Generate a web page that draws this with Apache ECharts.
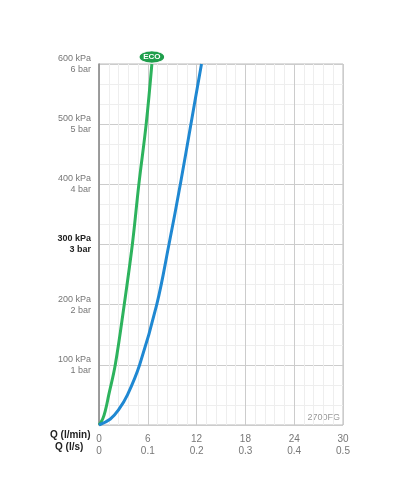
<!DOCTYPE html>
<html>
<head>
<meta charset="utf-8">
<script src="https://cdn.jsdelivr.net/npm/echarts@6/dist/echarts.min.js"></script>
<style>html,body{margin:0;padding:0;background:#fff}#chart{width:400px;height:500px}</style>
</head>
<body>
<div id="chart"></div>
<script>
// pressure steps (kPa) and flow (l/min)
var pressures = [0, 10, 25, 50, 100, 200, 300, 400, 500, 600];
var ecoFlow = [0, 0.45, 0.8, 1.2, 2.0, 3.1, 4.1, 4.9, 5.8, 6.5];
var stdFlow = [0, 1.4, 2.4, 3.5, 5.0, 7.1, 8.6, 10.0, 11.3, 12.6];
var xTicks = [0, 6, 12, 18, 24, 30];

function pairs(flow) {
	return flow.map(function (q, i) { return [q, pressures[i]]; });
}

var chart = echarts.init(document.getElementById('chart'));
chart.setOption({
	animation: false,
	grid: { left: 99, right: 57, top: 64, bottom: 75 },
	xAxis: {
		type: 'value', min: 0, max: 30, interval: 6,
		axisLine: { show: false },
		axisTick: { show: false },
		axisLabel: {
			color: '#777', fontSize: 10, fontFamily: 'Liberation Sans', lineHeight: 12,
			formatter: function (v) { return v + '\n' + (v === 0 ? '0' : +(v / 60).toFixed(1)); }
		},
		splitLine: { lineStyle: { color: '#ccc', width: 1 } },
		minorTick: { show: false, splitNumber: 5 },
		minorSplitLine: { show: true, lineStyle: { color: '#eee' } }
	},
	yAxis: {
		type: 'value', min: 0, max: 600, interval: 100,
		axisLine: { show: true, lineStyle: { color: '#888', width: 1.5 } },
		axisTick: { show: false },
		axisLabel: {
			fontFamily: 'Liberation Sans', fontSize: 9, align: 'right', lineHeight: 11,
			formatter: function (v) {
				if (v === 0) return '';
				return v === 300 ? '{b|' + v + ' kPa}\n{b|' + (v / 100) + ' bar}' : '{n|' + v + ' kPa}\n{n|' + (v / 100) + ' bar}';
			},
			rich: {
				n: { color: '#777', fontSize: 9, align: 'right', fontFamily: 'Liberation Sans' },
				b: { color: '#222', fontSize: 9, fontWeight: 'bold', align: 'right', fontFamily: 'Liberation Sans' }
			}
		},
		splitLine: { lineStyle: { color: '#ccc', width: 1 } },
		minorTick: { show: false, splitNumber: 3 },
		minorSplitLine: { show: true, lineStyle: { color: '#eee' } }
	},
	graphic: [
		{ type: 'rect', shape: { x: 99, y: 64, width: 244, height: 361 }, style: { fill: 'none', stroke: '#bbb', lineWidth: 1 }, silent: true },
		{ type: 'text', left: 50, top: 430, style: { text: 'Q (l/min)', font: 'bold 10px Liberation Sans', fill: '#222' } },
		{ type: 'text', left: 55, top: 442, style: { text: 'Q (l/s)', font: 'bold 10px Liberation Sans', fill: '#222' } },
		{ type: 'text', right: 60, top: 413, style: { text: '2700FG', font: '9px Liberation Sans', fill: '#999' } }
	],
	series: [
		{
			type: 'line', smooth: 0.4, symbol: 'none', data: pairs(ecoFlow),
			lineStyle: { color: '#2db35d', width: 3 },
			markPoint: {
				symbol: 'circle', symbolSize: [26, 12], symbolOffset: [0, -7],
				itemStyle: { color: '#1f9e4c', borderColor: '#fff', borderWidth: 1 },
				label: { show: true, formatter: 'ECO', color: '#fff', fontSize: 8, fontWeight: 'bold', fontFamily: 'Liberation Sans' },
				data: [{ coord: [ecoFlow[ecoFlow.length - 1], 600] }]
			}
		},
		{
			type: 'line', smooth: 0.4, symbol: 'none', data: pairs(stdFlow),
			lineStyle: { color: '#1f88d2', width: 3 }
		}
	]
});
</script>
</body>
</html>
